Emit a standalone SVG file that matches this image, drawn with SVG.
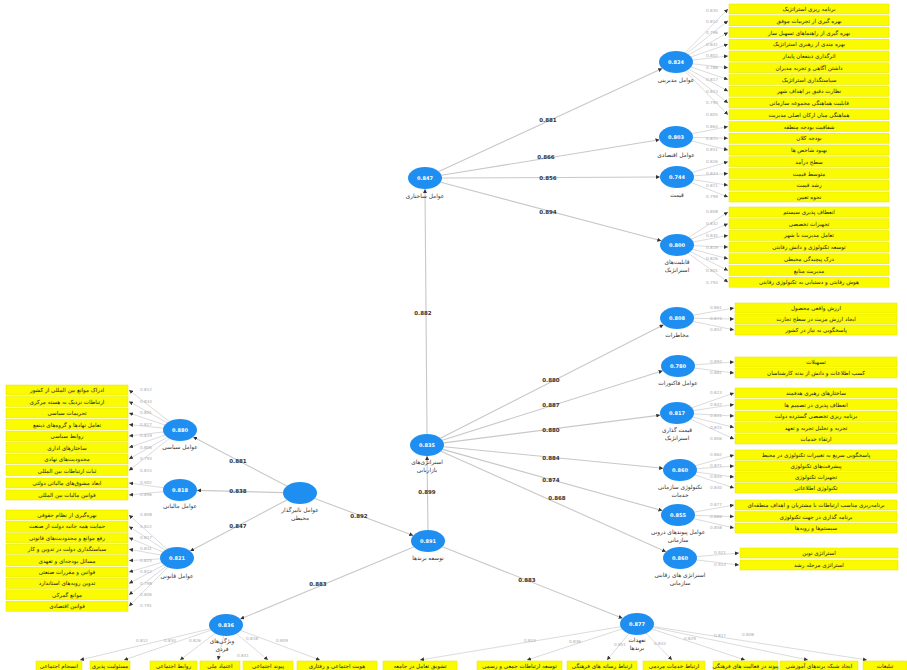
<svg xmlns="http://www.w3.org/2000/svg" width="907" height="670" viewBox="0 0 907 670">
<defs>
<marker id="ah" viewBox="0 0 6 6" refX="6" refY="3" markerWidth="4" markerHeight="4" orient="auto" markerUnits="userSpaceOnUse"><path d="M0,0 L6,3 L0,6 z" fill="#333"/></marker>
<style>
.ln{stroke:#c8c8c8;stroke-width:1.1;fill:none;marker-end:url(#ah)}
.ind{stroke:#d2d2d2;stroke-width:0.8;fill:none;marker-end:url(#ah)}
.box{fill:#fafa00;stroke:#e6e600;stroke-width:0.5}
.bt{font-family:"DejaVu Sans",sans-serif;font-size:5.6px;fill:#222;text-anchor:middle}
.lv{fill:#1e8ff0}
.lvt{font-family:"DejaVu Sans",sans-serif;font-size:5px;fill:#fff;text-anchor:middle;font-weight:bold}
.lab{font-family:"DejaVu Sans",sans-serif;font-size:5.8px;fill:#333;text-anchor:middle}
.pc{font-family:"DejaVu Sans",sans-serif;font-size:5.5px;fill:#333;text-anchor:middle;font-weight:bold}
.ld{font-family:"DejaVu Sans",sans-serif;font-size:4.2px;fill:#aaa;text-anchor:middle}
</style>
</defs>
<rect width="907" height="670" fill="#fff"/>
<g id="connectors">
<line class="ln" x1="438.8" y1="171.6" x2="662.2" y2="68.4"/>
<line class="ln" x1="441.5" y1="175.3" x2="659.5" y2="139.7"/>
<line class="ln" x1="442" y1="178" x2="660" y2="177"/>
<line class="ln" x1="440.7" y1="182.2" x2="661.3" y2="240.8"/>
<line class="ln" x1="427" y1="434" x2="425" y2="189"/>
<line class="ln" x1="428" y1="530" x2="427" y2="456"/>
<line class="ln" x1="440.4" y1="438.2" x2="663.6" y2="324.8"/>
<line class="ln" x1="442.3" y1="440.2" x2="662.7" y2="370.8"/>
<line class="ln" x1="443.7" y1="442.9" x2="660.3" y2="415.1"/>
<line class="ln" x1="443.8" y1="446.7" x2="663.2" y2="468.3"/>
<line class="ln" x1="442.6" y1="449.4" x2="662.4" y2="510.6"/>
<line class="ln" x1="441" y1="451.2" x2="666" y2="551.8"/>
<line class="ln" x1="314.7" y1="498.5" x2="413.3" y2="535.5"/>
<line class="ln" x1="286.8" y1="486.1" x2="193.2" y2="436.9"/>
<line class="ln" x1="283" y1="492.6" x2="197" y2="490.4"/>
<line class="ln" x1="286.8" y1="500" x2="190.2" y2="551"/>
<line class="ln" x1="413.7" y1="547" x2="240.3" y2="619"/>
<line class="ln" x1="442.4" y1="546.7" x2="622.6" y2="618.3"/>
<g>
<line class="ind" x1="676" y1="62" x2="728" y2="9"/><line class="ind" x1="676" y1="62" x2="728" y2="20.75"/><line class="ind" x1="676" y1="62" x2="728" y2="32.5"/><line class="ind" x1="676" y1="62" x2="728" y2="44.25"/><line class="ind" x1="676" y1="62" x2="728" y2="56"/><line class="ind" x1="676" y1="62" x2="728" y2="67.75"/><line class="ind" x1="676" y1="62" x2="728" y2="79.5"/><line class="ind" x1="676" y1="62" x2="728" y2="91.25"/><line class="ind" x1="676" y1="62" x2="728" y2="103"/><line class="ind" x1="676" y1="62" x2="728" y2="114.75"/>
<line class="ind" x1="676" y1="137" x2="728" y2="126.5"/><line class="ind" x1="676" y1="137" x2="728" y2="138.25"/><line class="ind" x1="676" y1="137" x2="728" y2="150"/>
<line class="ind" x1="677" y1="177" x2="728" y2="161.75"/><line class="ind" x1="677" y1="177" x2="728" y2="173.5"/><line class="ind" x1="677" y1="177" x2="728" y2="185.25"/><line class="ind" x1="677" y1="177" x2="728" y2="197"/>
<line class="ind" x1="677" y1="245" x2="728" y2="212"/><line class="ind" x1="677" y1="245" x2="728" y2="223.7"/><line class="ind" x1="677" y1="245" x2="728" y2="235.4"/><line class="ind" x1="677" y1="245" x2="728" y2="247.1"/><line class="ind" x1="677" y1="245" x2="728" y2="258.8"/><line class="ind" x1="677" y1="245" x2="728" y2="270.5"/><line class="ind" x1="677" y1="245" x2="728" y2="282.2"/>
<line class="ind" x1="677" y1="318" x2="734" y2="308"/><line class="ind" x1="677" y1="318" x2="734" y2="319"/><line class="ind" x1="677" y1="318" x2="734" y2="330"/>
<line class="ind" x1="678" y1="366" x2="734" y2="362"/><line class="ind" x1="678" y1="366" x2="734" y2="373"/>
<line class="ind" x1="677" y1="413" x2="734" y2="393"/><line class="ind" x1="677" y1="413" x2="734" y2="404.5"/><line class="ind" x1="677" y1="413" x2="734" y2="416"/><line class="ind" x1="677" y1="413" x2="734" y2="427.5"/><line class="ind" x1="677" y1="413" x2="734" y2="439"/>
<line class="ind" x1="680" y1="470" x2="734" y2="455"/><line class="ind" x1="680" y1="470" x2="734" y2="466"/><line class="ind" x1="680" y1="470" x2="734" y2="477"/><line class="ind" x1="680" y1="470" x2="734" y2="488"/>
<line class="ind" x1="678" y1="515" x2="734" y2="505"/><line class="ind" x1="678" y1="515" x2="734" y2="516.5"/><line class="ind" x1="678" y1="515" x2="734" y2="528"/>
<line class="ind" x1="680" y1="558" x2="739" y2="553"/><line class="ind" x1="680" y1="558" x2="739" y2="565"/>
<line class="ind" x1="180" y1="430" x2="129" y2="390"/><line class="ind" x1="180" y1="430" x2="129" y2="401.5"/><line class="ind" x1="180" y1="430" x2="129" y2="413"/><line class="ind" x1="180" y1="430" x2="129" y2="424.5"/><line class="ind" x1="180" y1="430" x2="129" y2="436"/><line class="ind" x1="180" y1="430" x2="129" y2="447.5"/><line class="ind" x1="180" y1="430" x2="129" y2="459"/><line class="ind" x1="180" y1="430" x2="129" y2="470.5"/>
<line class="ind" x1="180" y1="490" x2="129" y2="483"/><line class="ind" x1="180" y1="490" x2="129" y2="495"/>
<line class="ind" x1="177" y1="558" x2="129" y2="515"/><line class="ind" x1="177" y1="558" x2="129" y2="526.4"/><line class="ind" x1="177" y1="558" x2="129" y2="537.8"/><line class="ind" x1="177" y1="558" x2="129" y2="549.2"/><line class="ind" x1="177" y1="558" x2="129" y2="560.6"/><line class="ind" x1="177" y1="558" x2="129" y2="572"/><line class="ind" x1="177" y1="558" x2="129" y2="583.4"/><line class="ind" x1="177" y1="558" x2="129" y2="594.8"/><line class="ind" x1="177" y1="558" x2="129" y2="606.2"/>
<line class="ind" x1="226" y1="625" x2="80" y2="660"/><line class="ind" x1="226" y1="625" x2="124" y2="660"/><line class="ind" x1="226" y1="625" x2="180" y2="660"/><line class="ind" x1="226" y1="625" x2="218" y2="660"/><line class="ind" x1="226" y1="625" x2="268" y2="660"/><line class="ind" x1="226" y1="625" x2="320" y2="660"/>
<line class="ind" x1="637" y1="624" x2="420" y2="660"/><line class="ind" x1="637" y1="624" x2="527" y2="660"/><line class="ind" x1="637" y1="624" x2="607" y2="660"/><line class="ind" x1="637" y1="624" x2="672" y2="660"/><line class="ind" x1="637" y1="624" x2="745" y2="660"/><line class="ind" x1="637" y1="624" x2="808" y2="660"/><line class="ind" x1="637" y1="624" x2="867" y2="660"/>
</g>
<g id="path-coefficients">
<text class="pc" x="548" y="122">0.881</text>
<text class="pc" x="546" y="159">0.866</text>
<text class="pc" x="548" y="180">0.856</text>
<text class="pc" x="548" y="214">0.894</text>
<text class="pc" x="423" y="315">0.882</text>
<text class="pc" x="551" y="382">0.880</text>
<text class="pc" x="551" y="407">0.887</text>
<text class="pc" x="551" y="432">0.880</text>
<text class="pc" x="551" y="460">0.884</text>
<text class="pc" x="551" y="482">0.874</text>
<text class="pc" x="557" y="500">0.868</text>
<text class="pc" x="427" y="494">0.899</text>
<text class="pc" x="238" y="463">0.881</text>
<text class="pc" x="238" y="493">0.838</text>
<text class="pc" x="238" y="528">0.847</text>
<text class="pc" x="359" y="518">0.892</text>
<text class="pc" x="318" y="586">0.883</text>
<text class="pc" x="527" y="582">0.883</text>
</g>
<g id="loadings">
<text class="ld" x="712" y="12">0.835</text><text class="ld" x="712" y="23">0.812</text><text class="ld" x="712" y="34">0.796</text><text class="ld" x="712" y="46">0.841</text><text class="ld" x="712" y="57">0.802</text><text class="ld" x="712" y="69">0.788</text><text class="ld" x="712" y="81">0.817</text><text class="ld" x="712" y="93">0.823</text><text class="ld" x="712" y="104">0.790</text><text class="ld" x="712" y="116">0.805</text>
<text class="ld" x="712" y="128">0.864</text><text class="ld" x="712" y="140">0.872</text><text class="ld" x="712" y="151">0.851</text>
<text class="ld" x="712" y="163">0.826</text><text class="ld" x="712" y="175">0.843</text><text class="ld" x="712" y="187">0.811</text><text class="ld" x="712" y="198">0.799</text>
<text class="ld" x="712" y="213">0.808</text><text class="ld" x="712" y="225">0.832</text><text class="ld" x="712" y="237">0.845</text><text class="ld" x="712" y="249">0.819</text><text class="ld" x="712" y="260">0.826</text><text class="ld" x="712" y="272">0.801</text><text class="ld" x="712" y="284">0.794</text>
<text class="ld" x="716" y="309">0.861</text><text class="ld" x="716" y="320">0.874</text><text class="ld" x="716" y="331">0.852</text>
<text class="ld" x="716" y="363">0.893</text><text class="ld" x="716" y="374">0.881</text>
<text class="ld" x="716" y="394">0.823</text><text class="ld" x="716" y="406">0.847</text><text class="ld" x="716" y="417">0.831</text><text class="ld" x="716" y="429">0.815</text><text class="ld" x="716" y="440">0.806</text>
<text class="ld" x="716" y="456">0.862</text><text class="ld" x="716" y="467">0.871</text><text class="ld" x="716" y="478">0.855</text><text class="ld" x="716" y="489">0.840</text>
<text class="ld" x="716" y="506">0.877</text><text class="ld" x="716" y="518">0.866</text><text class="ld" x="716" y="529">0.858</text>
<text class="ld" x="720" y="554">0.921</text><text class="ld" x="720" y="566">0.914</text>
<text class="ld" x="146" y="391">0.812</text><text class="ld" x="146" y="403">0.834</text><text class="ld" x="146" y="414">0.801</text><text class="ld" x="146" y="426">0.827</text><text class="ld" x="146" y="437">0.819</text><text class="ld" x="146" y="449">0.806</text><text class="ld" x="146" y="460">0.793</text><text class="ld" x="146" y="472">0.815</text>
<text class="ld" x="146" y="484">0.902</text><text class="ld" x="146" y="496">0.896</text>
<text class="ld" x="146" y="516">0.808</text><text class="ld" x="146" y="528">0.822</text><text class="ld" x="146" y="539">0.817</text><text class="ld" x="146" y="550">0.831</text><text class="ld" x="146" y="562">0.825</text><text class="ld" x="146" y="573">0.812</text><text class="ld" x="146" y="585">0.798</text><text class="ld" x="146" y="596">0.806</text><text class="ld" x="146" y="607">0.791</text>
<text class="ld" x="142" y="642">0.812</text><text class="ld" x="170" y="642">0.834</text><text class="ld" x="195" y="642">0.826</text><text class="ld" x="243" y="657">0.841</text><text class="ld" x="252" y="640">0.818</text><text class="ld" x="282" y="642">0.809</text>
<text class="ld" x="530" y="642">0.824</text><text class="ld" x="575" y="643">0.836</text><text class="ld" x="620" y="646">0.851</text><text class="ld" x="660" y="645">0.843</text><text class="ld" x="690" y="640">0.829</text><text class="ld" x="720" y="637">0.817</text><text class="ld" x="748" y="636">0.808</text>
</g>
</g>
<g id="A-indicators">
<g id="a1"><rect class="box" x="729" y="4" width="160" height="10"/><text class="bt" x="809" y="11">برنامه ریزی استراتژیک</text></g>
<g id="a2"><rect class="box" x="729" y="15.75" width="160" height="10"/><text class="bt" x="809" y="22.75">بهره گیری از تجربیات موفق</text></g>
<g id="a3"><rect class="box" x="729" y="27.5" width="160" height="10"/><text class="bt" x="809" y="34.5">بهره گیری از راهنماهای تسهیل ساز</text></g>
<g id="a4"><rect class="box" x="729" y="39.25" width="160" height="10"/><text class="bt" x="809" y="46.25">بهره مندی از رهبری استراتژیک</text></g>
<g id="a5"><rect class="box" x="729" y="51" width="160" height="10"/><text class="bt" x="809" y="58">اثرگذاری ذینفعان پایدار</text></g>
<g id="a6"><rect class="box" x="729" y="62.75" width="160" height="10"/><text class="bt" x="809" y="69.75">داشتن آگاهی و تجربه مدیران</text></g>
<g id="a7"><rect class="box" x="729" y="74.5" width="160" height="10"/><text class="bt" x="809" y="81.5">سیاستگذاری استراتژیک</text></g>
<g id="a8"><rect class="box" x="729" y="86.25" width="160" height="10"/><text class="bt" x="809" y="93.25">نظارت دقیق بر اهداف شهر</text></g>
<g id="a9"><rect class="box" x="729" y="98" width="160" height="10"/><text class="bt" x="809" y="105">قابلیت هماهنگی مجموعه سازمانی</text></g>
<g id="a10"><rect class="box" x="729" y="109.75" width="160" height="10"/><text class="bt" x="809" y="116.75">هماهنگی میان ارکان اصلی مدیریت</text></g>
<g id="b1"><rect class="box" x="729" y="121.5" width="160" height="10"/><text class="bt" x="809" y="128.5">شفافیت بودجه منطقه</text></g>
<g id="b2"><rect class="box" x="729" y="133.25" width="160" height="10"/><text class="bt" x="809" y="140.25">بودجه کلان</text></g>
<g id="b3"><rect class="box" x="729" y="145" width="160" height="10"/><text class="bt" x="809" y="152">بهبود شاخص ها</text></g>
<g id="c1"><rect class="box" x="729" y="156.75" width="160" height="10"/><text class="bt" x="809" y="163.75">سطح درآمد</text></g>
<g id="c2"><rect class="box" x="729" y="168.5" width="160" height="10"/><text class="bt" x="809" y="175.5">متوسط قیمت</text></g>
<g id="c3"><rect class="box" x="729" y="180.25" width="160" height="10"/><text class="bt" x="809" y="187.25">رشد قیمت</text></g>
<g id="c4"><rect class="box" x="729" y="192" width="160" height="10"/><text class="bt" x="809" y="199">نحوه تعیین</text></g>
<g id="d1"><rect class="box" x="729" y="207" width="160" height="10"/><text class="bt" x="809" y="214">انعطاف پذیری سیستم</text></g>
<g id="d2"><rect class="box" x="729" y="218.7" width="160" height="10"/><text class="bt" x="809" y="225.7">تجهیزات تخصصی</text></g>
<g id="d3"><rect class="box" x="729" y="230.4" width="160" height="10"/><text class="bt" x="809" y="237.4">تعامل مدیریت با شهر</text></g>
<g id="d4"><rect class="box" x="729" y="242.1" width="160" height="10"/><text class="bt" x="809" y="249.1">توسعه تکنولوژی و دانش رقابتی</text></g>
<g id="d5"><rect class="box" x="729" y="253.8" width="160" height="10"/><text class="bt" x="809" y="260.8">درک پیچیدگی محیطی</text></g>
<g id="d6"><rect class="box" x="729" y="265.5" width="160" height="10"/><text class="bt" x="809" y="272.5">مدیریت منابع</text></g>
<g id="d7"><rect class="box" x="729" y="277.2" width="160" height="10"/><text class="bt" x="809" y="284.2">هوش رقابتی و دستیابی به تکنولوژی رقابتی</text></g>
<g id="e1"><rect class="box" x="735" y="303" width="162" height="10"/><text class="bt" x="816" y="310">ارزش واقعی محصول</text></g>
<g id="e2"><rect class="box" x="735" y="314" width="162" height="10"/><text class="bt" x="816" y="321">ایجاد ارزش مزیت در سطح تجارت</text></g>
<g id="e3"><rect class="box" x="735" y="325" width="162" height="10"/><text class="bt" x="816" y="332">پاسخگویی به نیاز در کشور</text></g>
<g id="f1"><rect class="box" x="735" y="357" width="162" height="10"/><text class="bt" x="816" y="364">تسهیلات</text></g>
<g id="f2"><rect class="box" x="735" y="368" width="162" height="10"/><text class="bt" x="816" y="375">کسب اطلاعات و دانش از بدنه کارشناسان</text></g>
<g id="g1"><rect class="box" x="735" y="388" width="162" height="10"/><text class="bt" x="816" y="395">ساختارهای رهبری هدفمند</text></g>
<g id="g2"><rect class="box" x="735" y="399.5" width="162" height="10"/><text class="bt" x="816" y="406.5">انعطاف پذیری در تصمیم ها</text></g>
<g id="g3"><rect class="box" x="735" y="411" width="162" height="10"/><text class="bt" x="816" y="418">برنامه ریزی تخصصی گسترده دولت</text></g>
<g id="g4"><rect class="box" x="735" y="422.5" width="162" height="10"/><text class="bt" x="816" y="429.5">تجزیه و تحلیل تجربه و تعهد</text></g>
<g id="g5"><rect class="box" x="735" y="434" width="162" height="10"/><text class="bt" x="816" y="441">ارتقاء خدمات</text></g>
<g id="h1"><rect class="box" x="735" y="450" width="162" height="10"/><text class="bt" x="816" y="457">پاسخگویی سریع به تغییرات تکنولوژی در محیط</text></g>
<g id="h2"><rect class="box" x="735" y="461" width="162" height="10"/><text class="bt" x="816" y="468">پیشرفت‌های تکنولوژی</text></g>
<g id="h3"><rect class="box" x="735" y="472" width="162" height="10"/><text class="bt" x="816" y="479">تجهیزات تکنولوژی</text></g>
<g id="h4"><rect class="box" x="735" y="483" width="162" height="10"/><text class="bt" x="816" y="490">تکنولوژی اطلاعاتی</text></g>
<g id="i1"><rect class="box" x="735" y="500" width="162" height="10"/><text class="bt" x="816" y="507">برنامه‌ریزی مناسب ارتباطات با مشتریان و اهداف منطقه‌ای</text></g>
<g id="i2"><rect class="box" x="735" y="511.5" width="162" height="10"/><text class="bt" x="816" y="518.5">برنامه گذاری در جهت تکنولوژی</text></g>
<g id="i3"><rect class="box" x="735" y="523" width="162" height="10"/><text class="bt" x="816" y="530">سیستم‌ها و رویه‌ها</text></g>
<g id="j1"><rect class="box" x="740" y="548" width="158" height="10"/><text class="bt" x="819" y="555">استراتژی نوین</text></g>
<g id="j2"><rect class="box" x="740" y="560" width="158" height="10"/><text class="bt" x="819" y="567">استراتژی مرحله رشد</text></g>
</g>
<g id="L-indicators">
<g id="l1a"><rect class="box" x="6" y="385" width="122" height="10"/><text class="bt" x="67" y="392">ادراک موانع بین المللی از کشور</text></g>
<g id="l1b"><rect class="box" x="6" y="396.5" width="122" height="10"/><text class="bt" x="67" y="403.5">ارتباطات نزدیک به هسته مرکزی</text></g>
<g id="l1c"><rect class="box" x="6" y="408" width="122" height="10"/><text class="bt" x="67" y="415">تحریمات سیاسی</text></g>
<g id="l1d"><rect class="box" x="6" y="419.5" width="122" height="10"/><text class="bt" x="67" y="426.5">تعامل نهادها و گروه‌های ذینفع</text></g>
<g id="l1e"><rect class="box" x="6" y="431" width="122" height="10"/><text class="bt" x="67" y="438">روابط سیاسی</text></g>
<g id="l1f"><rect class="box" x="6" y="442.5" width="122" height="10"/><text class="bt" x="67" y="449.5">ساختارهای اداری</text></g>
<g id="l1g"><rect class="box" x="6" y="454" width="122" height="10"/><text class="bt" x="67" y="461">محدودیت‌های نهادی</text></g>
<g id="l1h"><rect class="box" x="6" y="465.5" width="122" height="10"/><text class="bt" x="67" y="472.5">ثبات ارتباطات بین المللی</text></g>
<g id="l2a"><rect class="box" x="6" y="478" width="122" height="10"/><text class="bt" x="67" y="485">ابعاد مشوق‌های مالیاتی دولتی</text></g>
<g id="l2b"><rect class="box" x="6" y="490" width="122" height="10"/><text class="bt" x="67" y="497">قوانین مالیات بین المللی</text></g>
<g id="l3a"><rect class="box" x="6" y="510" width="122" height="10"/><text class="bt" x="67" y="517">بهره‌گیری از نظام حقوقی</text></g>
<g id="l3b"><rect class="box" x="6" y="521.4" width="122" height="10"/><text class="bt" x="67" y="528.4">حمایت همه جانبه دولت از صنعت</text></g>
<g id="l3c"><rect class="box" x="6" y="532.8" width="122" height="10"/><text class="bt" x="67" y="539.8">رفع موانع و محدودیت‌های قانونی</text></g>
<g id="l3d"><rect class="box" x="6" y="544.2" width="122" height="10"/><text class="bt" x="67" y="551.2">سیاستگذاری دولت در تدوین و کار</text></g>
<g id="l3e"><rect class="box" x="6" y="555.6" width="122" height="10"/><text class="bt" x="67" y="562.6">مسائل بودجه‌ای و تعهدی</text></g>
<g id="l3f"><rect class="box" x="6" y="567" width="122" height="10"/><text class="bt" x="67" y="574">قوانین و مقررات صنعتی</text></g>
<g id="l3g"><rect class="box" x="6" y="578.4" width="122" height="10"/><text class="bt" x="67" y="585.4">تدوین رویه‌های استاندارد</text></g>
<g id="l3h"><rect class="box" x="6" y="589.8" width="122" height="10"/><text class="bt" x="67" y="596.8">موانع گمرکی</text></g>
<g id="l3i"><rect class="box" x="6" y="601.2" width="122" height="10"/><text class="bt" x="67" y="608.2">قوانین اقتصادی</text></g>
</g>
<g id="bottom-indicators">
<g id="bb1"><rect class="box" x="36" y="661" width="46" height="12"/><text class="bt" x="59" y="668">انسجام اجتماعی</text></g>
<g id="bb2"><rect class="box" x="90" y="661" width="40" height="12"/><text class="bt" x="110" y="668">مسئولیت پذیری</text></g>
<g id="bb3"><rect class="box" x="150" y="661" width="47" height="12"/><text class="bt" x="173.5" y="668">روابط اجتماعی</text></g>
<g id="bb4"><rect class="box" x="200" y="661" width="40" height="12"/><text class="bt" x="220" y="668">اعتماد ملی</text></g>
<g id="bb5"><rect class="box" x="243" y="661" width="50" height="12"/><text class="bt" x="268" y="668">پیوند اجتماعی</text></g>
<g id="bb6"><rect class="box" x="297" y="661" width="80" height="12"/><text class="bt" x="337" y="668">هویت اجتماعی و رفتاری</text></g>
<g id="bb7"><rect class="box" x="383" y="661" width="74" height="12"/><text class="bt" x="420" y="668">تشویق تعامل در جامعه</text></g>
<g id="bb8"><rect class="box" x="477" y="661" width="85" height="12"/><text class="bt" x="519.5" y="668">توسعه ارتباطات جمعی و رسمی</text></g>
<g id="bb9"><rect class="box" x="567" y="661" width="70" height="12"/><text class="bt" x="602" y="668">ارتباط رسانه های فرهنگی</text></g>
<g id="bb10"><rect class="box" x="643" y="661" width="62" height="12"/><text class="bt" x="674" y="668">ارتباط خدمات مردمی</text></g>
<g id="bb11"><rect class="box" x="713" y="661" width="65" height="12"/><text class="bt" x="745.5" y="668">پیوند در فعالیت های فرهنگی</text></g>
<g id="bb12"><rect class="box" x="780" y="661" width="78" height="12"/><text class="bt" x="819" y="668">ایجاد شبکه برندهای آموزشی</text></g>
<g id="bb13"><rect class="box" x="863" y="661" width="44" height="12"/><text class="bt" x="885" y="668">تبلیغات</text></g>
</g>
<g id="node-T"><ellipse class="lv" cx="425" cy="178" rx="17" ry="11"/><text class="lvt" x="425" y="180">0.847</text><text class="lab" x="425" y="198">عوامل ساختاری</text></g>
<g id="node-A"><ellipse class="lv" cx="676" cy="62" rx="17" ry="11"/><text class="lvt" x="676" y="64">0.824</text><text class="lab" x="676" y="82">عوامل مدیریتی</text></g>
<g id="node-B"><ellipse class="lv" cx="676" cy="137" rx="17" ry="11"/><text class="lvt" x="676" y="139">0.803</text><text class="lab" x="676" y="157">عوامل اقتصادی</text></g>
<g id="node-C"><ellipse class="lv" cx="677" cy="177" rx="17" ry="11"/><text class="lvt" x="677" y="179">0.744</text><text class="lab" x="677" y="197">قیمت</text></g>
<g id="node-D"><ellipse class="lv" cx="677" cy="245" rx="17" ry="11"/><text class="lvt" x="677" y="247">0.800</text><text class="lab" x="677" y="264">قابلیت‌های</text><text class="lab" x="677" y="272">استراتژیک</text></g>
<g id="node-M"><ellipse class="lv" cx="427" cy="445" rx="17" ry="11"/><text class="lvt" x="427" y="447">0.835</text><text class="lab" x="427" y="464">استراتژی‌های</text><text class="lab" x="427" y="472">بازاریابی</text></g>
<g id="node-E"><ellipse class="lv" cx="677" cy="318" rx="17" ry="11"/><text class="lvt" x="677" y="320">0.808</text><text class="lab" x="677" y="337">مخاطرات</text></g>
<g id="node-F"><ellipse class="lv" cx="678" cy="366" rx="17" ry="11"/><text class="lvt" x="678" y="368">0.780</text><text class="lab" x="678" y="385">عوامل فاکتورات</text></g>
<g id="node-G"><ellipse class="lv" cx="677" cy="413" rx="17" ry="11"/><text class="lvt" x="677" y="415">0.817</text><text class="lab" x="677" y="432">قیمت گذاری</text><text class="lab" x="677" y="440">استراتژیک</text></g>
<g id="node-H"><ellipse class="lv" cx="680" cy="470" rx="17" ry="11"/><text class="lvt" x="680" y="472">0.860</text><text class="lab" x="680" y="489">تکنولوژی سازمانی</text><text class="lab" x="680" y="497">خدمات</text></g>
<g id="node-I"><ellipse class="lv" cx="678" cy="515" rx="17" ry="11"/><text class="lvt" x="678" y="517">0.855</text><text class="lab" x="678" y="534">عوامل پیوندهای درونی</text><text class="lab" x="678" y="542">سازمانی</text></g>
<g id="node-J"><ellipse class="lv" cx="680" cy="558" rx="17" ry="11"/><text class="lvt" x="680" y="560">0.860</text><text class="lab" x="680" y="577">استراتژی های رقابتی</text><text class="lab" x="680" y="585">سازمانی</text></g>
<g id="node-N"><ellipse class="lv" cx="428" cy="541" rx="17" ry="11"/><text class="lvt" x="428" y="543">0.891</text><text class="lab" x="428" y="560">توسعه برندها</text></g>
<g id="node-P"><ellipse class="lv" cx="300" cy="493" rx="17" ry="11"/><text class="lab" x="300" y="512">عوامل تاثیرگذار</text><text class="lab" x="300" y="520">محیطی</text></g>
<g id="node-L1"><ellipse class="lv" cx="180" cy="430" rx="17" ry="11"/><text class="lvt" x="180" y="432">0.880</text><text class="lab" x="180" y="449">عوامل سیاسی</text></g>
<g id="node-L2"><ellipse class="lv" cx="180" cy="490" rx="17" ry="11"/><text class="lvt" x="180" y="492">0.818</text><text class="lab" x="180" y="508">عوامل مالیاتی</text></g>
<g id="node-L3"><ellipse class="lv" cx="177" cy="558" rx="17" ry="11"/><text class="lvt" x="177" y="560">0.821</text><text class="lab" x="177" y="578">عوامل قانونی</text></g>
<g id="node-B1"><ellipse class="lv" cx="226" cy="625" rx="17" ry="11"/><text class="lvt" x="226" y="627">0.836</text><text class="lab" x="222" y="643">ویژگی‌های</text><text class="lab" x="222" y="651">فردی</text></g>
<g id="node-B2"><ellipse class="lv" cx="637" cy="624" rx="17" ry="11"/><text class="lvt" x="637" y="626">0.877</text><text class="lab" x="637" y="642">تعهدات</text><text class="lab" x="637" y="650">برندها</text></g>
</svg>
